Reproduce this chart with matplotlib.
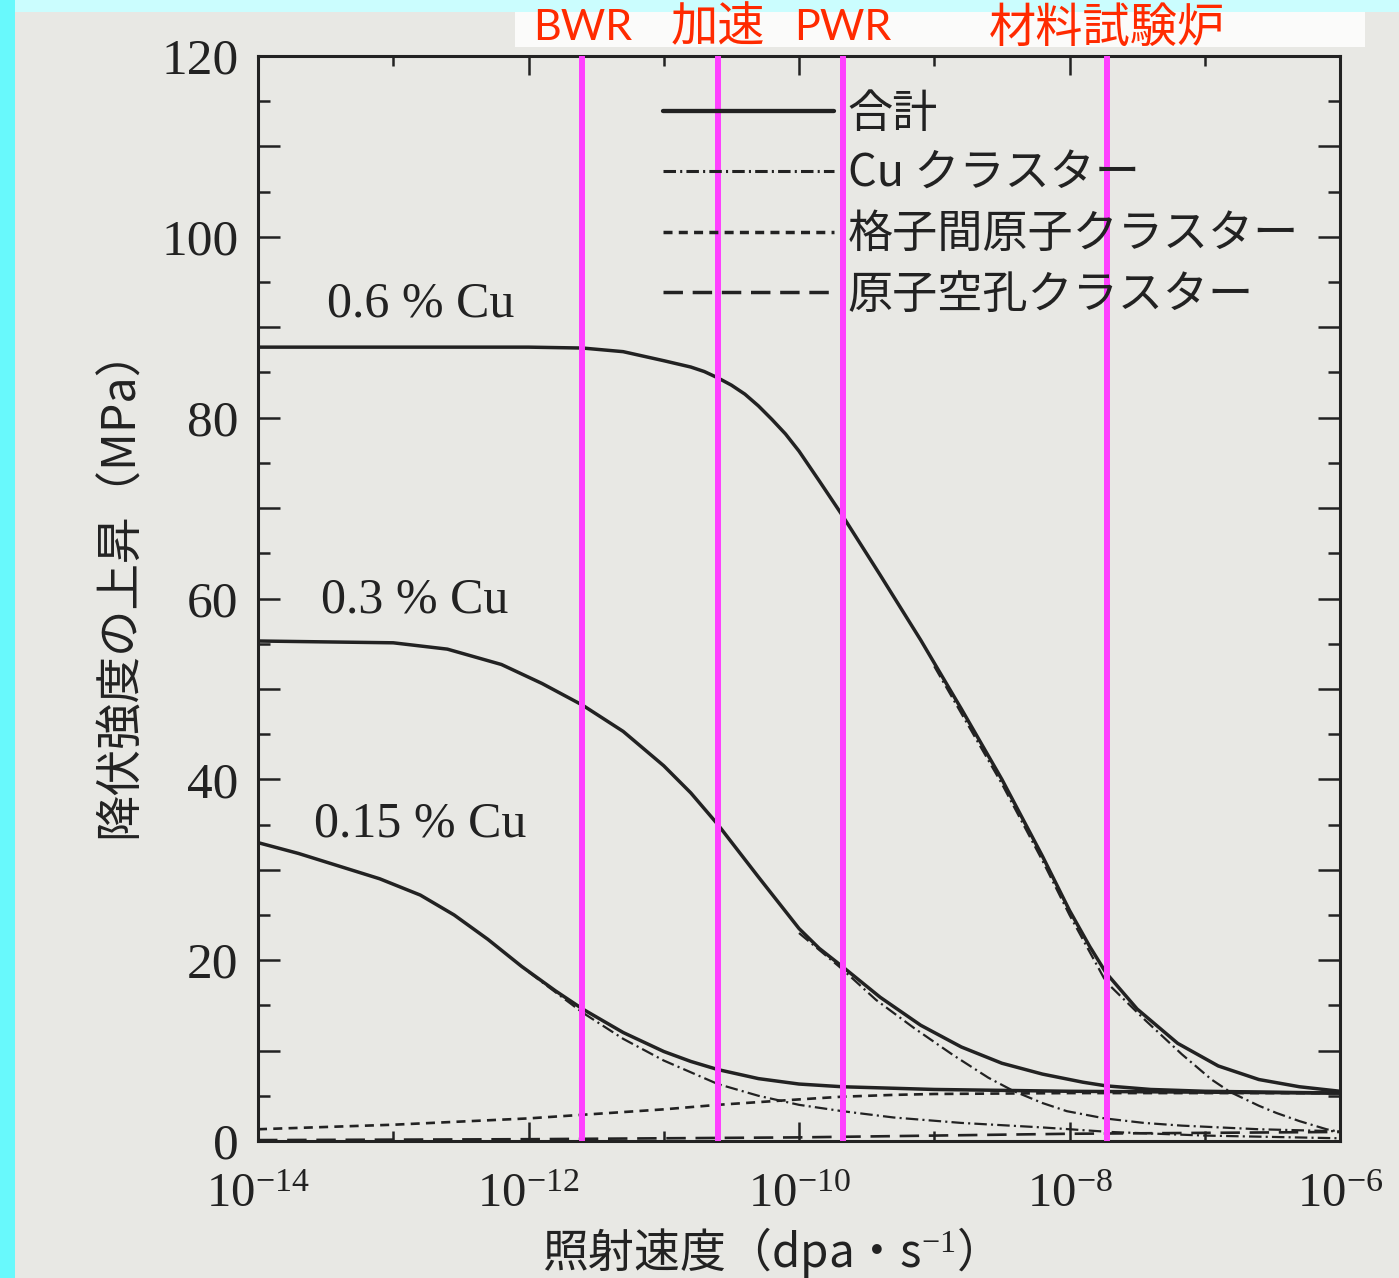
import numpy as np
import matplotlib.pyplot as plt
from matplotlib.patches import Rectangle
from matplotlib.ticker import FixedLocator, FuncFormatter, NullFormatter

plt.rcParams['lines.scale_dashes'] = False
plt.rcParams['mathtext.fontset'] = 'custom'
plt.rcParams['mathtext.rm'] = 'Liberation Serif'
plt.rcParams['mathtext.it'] = 'Liberation Serif:italic'
plt.rcParams['mathtext.bf'] = 'Liberation Serif:bold'

# irradiation rate as log10(dpa/s), yield strength increase in MPa
cu06_exp = [-14.0, -13.0, -12.0, -11.6, -11.3, -11.0, -10.8, -10.7, -10.6, -10.5, -10.4, -10.3,
            -10.2, -10.1, -10.0, -9.85, -9.68, -9.4, -9.1, -8.8, -8.5, -8.2, -8.0, -7.85, -7.73,
            -7.5, -7.2, -6.9, -6.6, -6.3, -6.0]
cu06_total = [87.8, 87.8, 87.8, 87.7, 87.3, 86.3, 85.6, 85.1, 84.4, 83.6, 82.6, 81.3,
              79.8, 78.2, 76.3, 73.0, 69.2, 62.6, 55.4, 47.8, 40.0, 31.5, 25.5, 21.5, 18.6,
              14.6, 10.8, 8.3, 6.8, 6.0, 5.5]
cu06_cu_exp = [-9.0, -8.5, -8.2, -8.0, -7.73, -7.45, -7.17, -6.95, -6.81, -6.6, -6.47, -6.3, -6.1, -6.0]
cu06_cu = [52.5, 39.5, 31.0, 25.0, 17.6, 13.5, 9.6, 6.8, 5.4, 3.9, 3.1, 2.2, 1.3, 1.0]

cu03_exp = [-14.0, -13.0, -12.6, -12.2, -11.9, -11.6, -11.3, -11.0, -10.8, -10.6, -10.3, -10.0,
            -9.85, -9.68, -9.4, -9.1, -8.8, -8.5, -8.2, -7.9, -7.73, -7.4, -7.0, -6.5, -6.0]
cu03_total = [55.3, 55.1, 54.4, 52.7, 50.6, 48.2, 45.3, 41.5, 38.5, 35.0, 29.2, 23.5,
              21.3, 19.3, 15.9, 12.8, 10.4, 8.6, 7.4, 6.5, 6.1, 5.7, 5.5, 5.4, 5.3]
cu03_cu_exp = [-10.0, -9.68, -9.43, -9.15, -8.86, -8.6, -8.41, -8.2, -8.02, -7.74, -7.45, -7.17, -6.6, -6.07, -6.0]
cu03_cu = [23.0, 19.0, 15.6, 12.5, 9.5, 7.0, 5.5, 4.2, 3.3, 2.5, 2.0, 1.7, 1.3, 1.1, 1.05]

cu015_exp = [-14.0, -13.7, -13.4, -13.1, -12.8, -12.55, -12.3, -12.05, -11.8, -11.6, -11.3, -11.0,
             -10.8, -10.6, -10.3, -10.0, -9.68, -9.0, -8.0, -7.0, -6.0]
cu015_total = [33.0, 31.8, 30.4, 29.0, 27.2, 25.0, 22.3, 19.3, 16.6, 14.6, 12.0, 9.9,
               8.8, 7.9, 6.9, 6.3, 6.0, 5.7, 5.5, 5.4, 5.3]
cu015_cu_exp = [-12.0, -11.6, -11.3, -11.0, -10.6, -10.3, -10.0, -9.68, -9.3, -8.8, -8.2, -7.7, -7.0, -6.0]
cu015_cu = [18.7, 14.2, 11.3, 8.9, 6.3, 5.0, 4.0, 3.3, 2.6, 2.0, 1.5, 1.0, 0.6, 0.3]

inter_exp = [-14.0, -13.0, -12.0, -11.6, -11.0, -10.6, -10.0, -9.68, -9.3, -9.0, -8.0, -7.0, -6.0]
inter_y = [1.3, 1.8, 2.5, 2.9, 3.5, 4.0, 4.6, 4.9, 5.1, 5.2, 5.3, 5.3, 5.3]

vac_exp = [-14.0, -12.0, -10.0, -9.0, -8.0, -7.0, -6.0]
vac_y = [0.1, 0.2, 0.4, 0.6, 0.8, 0.9, 1.0]

curve_names = ['0.6 % Cu', '0.3 % Cu', '0.15 % Cu']
curve_label_exp = [-12.80, -12.84, -12.80]
curve_label_y = [92.5, 59.8, 35.0]

reactor_names = ['BWR', '加速', 'PWR', '材料試験炉']
reactor_rates = [2.5e-12, 2.5e-11, 2.1e-10, 1.9e-8]

legend_labels = ['合計', 'Cu クラスター', '格子間原子クラスター', '原子空孔クラスター']

ink = '#222222'
paper = '#e8e8e4'
W, H = 1399, 1278

fig = plt.figure(figsize=(W / 100, H / 100), dpi=100, facecolor=paper)

# slide background strips and the white title band
fig.add_artist(Rectangle((0, 1 - 12 / H), 1, 12 / H, transform=fig.transFigure,
                         fc='#cbfdfe', ec='none', zorder=-2))
fig.add_artist(Rectangle((0, 0), 15 / W, 1, transform=fig.transFigure,
                         fc='#68f9fc', ec='none', zorder=-2))
fig.add_artist(Rectangle((515 / W, 1 - 47 / H), (1365 - 515) / W, 35 / H,
                         transform=fig.transFigure, fc='#fbfbfa', ec='none', zorder=-1))

ax = fig.add_axes([258 / W, 1 - 1141 / H, (1340 - 258) / W, (1141 - 56) / H])
ax.set_facecolor('none')
ax.set_xscale('log')
ax.set_xlim(1e-14, 1e-6)
ax.set_ylim(0, 120)

solid = dict(color=ink, lw=2.5, ls='-', solid_capstyle='round', solid_joinstyle='round')
dashdot = dict(color=ink, lw=1.6, ls=(0, (9, 3, 1.5, 3)))
short_dash = dict(color=ink, lw=1.9, ls=(0, (6.5, 4.5)))
long_dash = dict(color=ink, lw=1.9, ls=(0, (14, 7)))

ax.plot(10.0 ** np.array(vac_exp), vac_y, **long_dash, label=legend_labels[3])
ax.plot(10.0 ** np.array(inter_exp), inter_y, **short_dash, label=legend_labels[2])
ax.plot(10.0 ** np.array(cu06_cu_exp), cu06_cu, **dashdot, label=legend_labels[1])
ax.plot(10.0 ** np.array(cu03_cu_exp), cu03_cu, **dashdot)
ax.plot(10.0 ** np.array(cu015_cu_exp), cu015_cu, **dashdot)
ax.plot(10.0 ** np.array(cu06_exp), cu06_total, **solid, label=legend_labels[0])
ax.plot(10.0 ** np.array(cu03_exp), cu03_total, **solid)
ax.plot(10.0 ** np.array(cu015_exp), cu015_total, **solid)

for name, e, y in zip(curve_names, curve_label_exp, curve_label_y):
    ax.text(10.0 ** e, y, name, ha='center', va='center', fontsize=36,
            family='Liberation Serif', color=ink)

# reactor irradiation rates
for name, rate in zip(reactor_names, reactor_rates):
    ax.axvline(rate, color='#ff40ff', lw=4.3, zorder=5)
    ax.text(rate, 1.026, name, transform=ax.get_xaxis_transform(), ha='center',
            va='center', fontsize=31 if name.isascii() else 34, color='#ff2a00',
            family=['Lato', 'Noto Sans CJK JP'])

handles, labels = ax.get_legend_handles_labels()
order = [labels.index(l) for l in legend_labels]
leg = ax.legend([handles[i] for i in order], [labels[i] for i in order],
                loc='upper left', bbox_to_anchor=(0.353, 0.989), frameon=False,
                prop={'family': 'Noto Sans CJK JP', 'size': 32.5},
                handlelength=3.8, handletextpad=0.3, labelspacing=0.32, borderpad=0)
for t in leg.get_texts():
    t.set_color(ink)
for ln in leg.get_lines():
    ln.set_linewidth(ln.get_linewidth() + 0.6)

# ticks inside on all four sides
ax.xaxis.set_major_locator(FixedLocator([1e-14, 1e-12, 1e-10, 1e-8, 1e-6]))
ax.xaxis.set_minor_locator(FixedLocator([1e-13, 1e-11, 1e-9, 1e-7]))
ax.xaxis.set_major_formatter(FuncFormatter(lambda v, p: r'$10^{%d}$' % round(np.log10(v))))
ax.xaxis.set_minor_formatter(NullFormatter())
ax.yaxis.set_major_locator(FixedLocator(np.arange(0, 121, 10)))
ax.yaxis.set_minor_locator(FixedLocator(np.arange(5, 120, 10)))
ax.yaxis.set_major_formatter(FuncFormatter(lambda v, p: '%d' % v if v % 20 == 0 else ''))

ax.tick_params(which='both', direction='in', top=True, right=True, color=ink, width=1.8)
ax.tick_params(axis='x', which='major', length=14, pad=20)
ax.tick_params(axis='x', which='minor', length=7)
ax.tick_params(axis='y', which='major', length=16, pad=14)
ax.tick_params(axis='y', which='minor', length=8.5)
for lab in ax.get_xticklabels():
    lab.set_fontsize(35)
    lab.set_color(ink)
for lab in ax.get_yticklabels():
    lab.set_fontsize(37)
    lab.set_family('Liberation Serif')
    lab.set_color(ink)
for sp in ax.spines.values():
    sp.set_linewidth(2.2)
    sp.set_color(ink)

fig.text(120 / W, 1 - 582 / H, '降伏強度の上昇（MPa）', rotation=90, ha='center', va='center',
         fontsize=33.5, family='Noto Sans CJK JP', color=ink)
fig.text(757 / W, 1 - 1252 / H, '照射速度（dpa・s$^{-1}$）', ha='center', va='center',
         fontsize=33, family='Noto Sans CJK JP', color=ink)

fig.savefig('out.png', dpi=100, facecolor=paper)
